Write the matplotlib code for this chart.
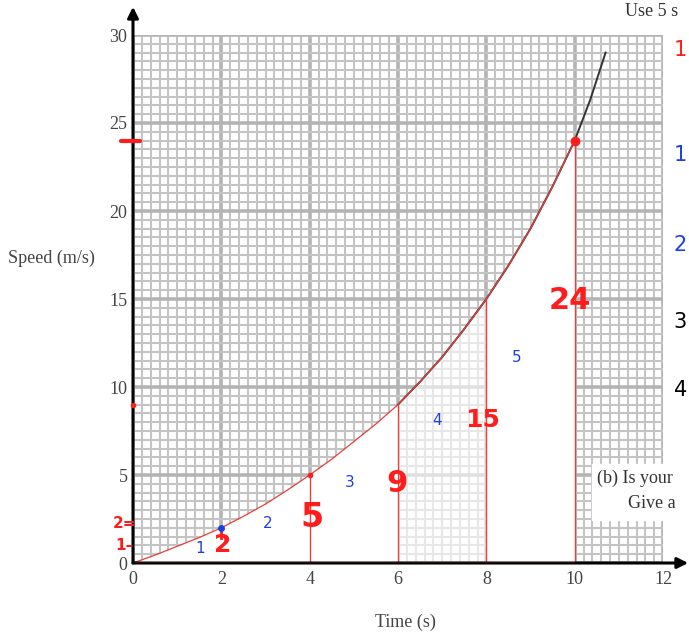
import matplotlib.pyplot as plt
import numpy as np

# speed-time curve
times = [0, 0.5, 1, 1.5, 2, 2.5, 3, 3.5, 4, 4.5, 5, 5.5, 6, 6.5, 7, 7.5,
         8, 8.5, 9, 9.5, 10, 10.35, 10.7]
speeds = [0, 0.45, 0.95, 1.45, 2.0, 2.65, 3.35, 4.15, 5.0, 5.9, 6.9, 7.9,
          9.0, 10.3, 11.7, 13.3, 15.0, 16.9, 19.0, 21.4, 24.0, 26.3, 29.0]

# strip edges used for the trapezium estimate
strip_t = [2, 4, 6, 8, 10]
strip_v = [2, 5, 9, 15, 24]
strip_no = ['1', '2', '3', '4', '5']

xticks = [0, 2, 4, 6, 8, 10, 12]
yticks = [0, 5, 10, 15, 20, 25, 30]

RED = '#ff1c1c'
BLUE = '#1f3fe6'
serif = 'Liberation Serif'
hand = 'DejaVu Sans'

fig = plt.figure(figsize=(6.89, 6.33), dpi=100)
ax = fig.add_axes([133/689, 70/633, 530/689, 528/633])
ax.set_xlim(0, 12)
ax.set_ylim(0, 30)
for s in ax.spines.values():
    s.set_visible(False)

# graph paper
for x in np.arange(0, 12.01, 0.2):
    major = abs(x - 2*round(x/2)) < 1e-6
    ax.axvline(x, color='#b4b4b4' if major else '#c4c4c4',
               lw=2.6 if major else 1.5, zorder=1)
for y in np.arange(0, 30.01, 0.5):
    major = abs(y - 5*round(y/5)) < 1e-6
    ax.axhline(y, color='#b4b4b4' if major else '#c4c4c4',
               lw=2.6 if major else 1.5, zorder=1)

t = np.array(times)
v = np.array(speeds)
ax.fill_between(t, 0, v, where=(t <= 6), color='white', zorder=2, lw=0)
ax.fill_between(t, 0, v, where=(t >= 8) & (t <= 10), color='white', zorder=2, lw=0)
ax.fill_between(t, 0, v, where=(t >= 6) & (t <= 8), color='white', alpha=0.6,
                zorder=2, lw=0)

# curve and strips
hi = t >= 6
ax.plot(t[hi], v[hi], color='#333333', lw=1.4, zorder=3)
m = t <= 10
ax.plot(t[m], v[m], color='#e8403c', lw=0.9, zorder=4)
ax.vlines(strip_t[1:], 0, strip_v[1:], color='#e8403c', lw=1.0, zorder=4)
ax.plot([2, 2], [2, 1.4], color=RED, lw=2, zorder=5)
ax.plot(10, 24, 'o', color=RED, ms=6, zorder=6)
ax.plot(4, 5, 'o', color=RED, ms=3, zorder=6)
ax.plot(2, 2, 'o', color=BLUE, ms=4, zorder=6)

# axes with arrows
ax.annotate('', xy=(0, 31.6), xytext=(0, 0), annotation_clip=False,
            arrowprops=dict(arrowstyle='-|>', color='black', lw=2.2,
                            mutation_scale=16, shrinkA=0, shrinkB=0), zorder=7)
ax.annotate('', xy=(12.57, 0), xytext=(0, 0), annotation_clip=False,
            arrowprops=dict(arrowstyle='-|>', color='black', lw=2.2,
                            mutation_scale=16, shrinkA=0, shrinkB=0), zorder=7)
ax.plot([0, 10], [0, 0], color='#e8403c', lw=1.0, zorder=8)

ax.set_xticks(xticks)
ax.set_xticklabels([str(x) for x in xticks], family=serif, fontsize=13, color='#444444')
ax.set_yticks(yticks)
ax.set_yticklabels([str(y) for y in yticks], family=serif, fontsize=13, color='#444444')
ax.tick_params(length=0, pad=4)
ax.tick_params(axis='x', pad=6)

fig.text(8/689, 1 - 258/633, 'Speed (m/s)', family=serif, fontsize=13,
         color='#444444', va='center', ha='left')
fig.text(405/689, 1 - 622/633, 'Time (s)', family=serif, fontsize=13,
         color='#444444', va='center', ha='center')

# handwritten working
red_pos = [(2.02, 1.0, 18), (4.05, 2.6, 24), (5.98, 4.5, 22), (7.92, 8.1, 18),
           (9.89, 14.9, 22)]
for (x, y, fs), val in zip(red_pos, strip_v):
    ax.text(x, y, str(val), color=RED, fontsize=fs, family=hand,
            fontweight='bold', ha='center', va='center', zorder=9)
blue_pos = [(1.52, 0.8), (3.06, 2.27), (4.91, 4.55), (6.88, 8.1), (8.69, 11.7)]
for (x, y), lab in zip(blue_pos, strip_no):
    ax.text(x, y, lab, color=BLUE, fontsize=11, family=hand,
            ha='center', va='center', zorder=9)

ax.plot([-0.28, 0.15], [24, 24], color=RED, lw=3, solid_capstyle='round',
        clip_on=False, zorder=9)
ax.plot(0, 9, 'o', color=RED, ms=3, clip_on=False, zorder=9)
ax.text(-0.2, 2.25, '2=', color=RED, fontsize=11, family=hand, fontweight='bold',
        ha='center', va='center', clip_on=False, zorder=9)
ax.text(-0.2, 1.0, '1–', color=RED, fontsize=11, family=hand, fontweight='bold',
        ha='center', va='center', clip_on=False, zorder=9)

# question text on the right
fig.patches.append(plt.Rectangle((592/689, 1 - 520/633), 97/689, 56/633,
                                 transform=fig.transFigure, color='white', zorder=10))
fig.text(597/689, 1 - 478/633, '(b) Is your', family=serif, fontsize=13,
         color='#333333', va='center', ha='left', zorder=11)
fig.text(628/689, 1 - 503/633, 'Give a', family=serif, fontsize=13,
         color='#333333', va='center', ha='left', zorder=11)
fig.text(625/689, 1 - 11/633, 'Use 5 s', family=serif, fontsize=13,
         color='#333333', va='center', ha='left')

for py, lab, col in [(50, '1', RED), (155, '1', BLUE), (245, '2', BLUE),
                     (322, '3', 'black'), (390, '4', 'black')]:
    fig.text(687/689, 1 - py/633, lab, color=col, fontsize=15, family=hand,
             va='center', ha='right')

fig.savefig('out.png', dpi=100)
